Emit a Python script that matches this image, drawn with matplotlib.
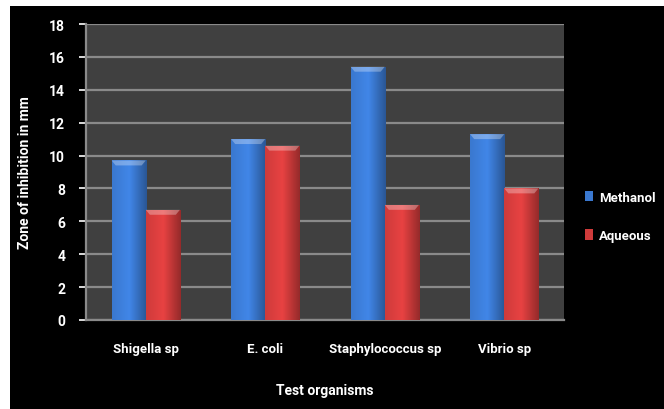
import numpy as np
import matplotlib
matplotlib.use("Agg")
import matplotlib.pyplot as plt
from matplotlib.patches import Rectangle, Polygon
from matplotlib.colors import LinearSegmentedColormap, to_rgb

plt.rcParams['font.family'] = ['Roboto', 'DejaVu Sans']

# data
organisms = ['Shigella sp', 'E. coli', 'Staphylococcus sp', 'Vibrio sp']
methanol = [9.7, 11.0, 15.4, 11.3]
aqueous = [6.7, 10.6, 7.0, 8.0]
series_names = ['Methanol', 'Aqueous']
yticks = list(range(0, 19, 2))

blue = '#3a78cf'
red = '#cf3b3b'

fig = plt.figure(figsize=(6.64, 4.10), dpi=100)
fig.patch.set_facecolor('white')
# black chart area (white margin at top and left like the screenshot)
fig.add_artist(Rectangle((10/664, 0), 654/664, 403/410, transform=fig.transFigure,
                         facecolor='black', edgecolor='none', zorder=0))

ax = fig.add_axes([86/664, 89/410, 478/664, 296/410])
ax.set_facecolor('#404040')

w = 1 / 3.5   # excel gap width 150%
x = np.arange(len(organisms))


def shaded_bars(xpos, vals, color, label):
    bars = ax.bar(xpos, vals, width=w, color=color, edgecolor='none',
                  label=label, zorder=3)
    rgb = to_rgb(color)
    cm = LinearSegmentedColormap.from_list('g', [
        rgb, tuple(min(1, c * 1.12) for c in rgb), tuple(c * 0.72 for c in rgb)])
    grad = np.linspace(0, 1, 64).reshape(1, -1)
    for b in bars:
        x0, y0 = b.get_x(), b.get_y()
        bw, bh = b.get_width(), b.get_height()
        im = ax.imshow(grad, cmap=cm, aspect='auto',
                       extent=[x0, x0 + bw, y0, y0 + bh], zorder=4)
        im.set_clip_path(b)
        # bevel on the top
        th = 0.3
        ax.add_patch(Polygon([[x0, y0 + bh], [x0 + bw, y0 + bh],
                              [x0 + bw * 0.88, y0 + bh - th], [x0 + bw * 0.12, y0 + bh - th]],
                             closed=True, facecolor='white', alpha=0.3,
                             edgecolor='none', zorder=5))
    return bars


shaded_bars(x - w / 2, methanol, blue, series_names[0])
shaded_bars(x + w / 2, aqueous, red, series_names[1])

ax.set_xlim(-0.5, len(organisms) - 0.5)
ax.set_ylim(0, 18)
ax.set_yticks(yticks)
ax.set_xticks(x)
ax.set_xticklabels(organisms)
ax.yaxis.grid(True, color='#8a8a8a', linewidth=1.6, zorder=1)
ax.set_axisbelow(True)

for s in ['top', 'right']:
    ax.spines[s].set_visible(False)
ax.spines['left'].set_color('#8a8a8a')
ax.spines['bottom'].set_color('#8a8a8a')
ax.spines['left'].set_linewidth(1.6)
ax.spines['bottom'].set_linewidth(1.6)
ax.tick_params(axis='y', colors='white', labelsize=10, length=5, width=1.2, pad=10)
ax.tick_params(axis='x', colors='white', labelsize=9.5, length=0, pad=16)
for t in ax.get_yticklabels() + ax.get_xticklabels():
    t.set_fontweight('bold')
    t.set_color('white')

ax.set_ylabel('Zone of inhibition in mm', color='white', fontsize=10,
              fontweight='bold', labelpad=12)
ax.set_xlabel('Test organisms', color='white', fontsize=10,
              fontweight='bold', labelpad=20)

leg = ax.legend(loc='center left', bbox_to_anchor=(1.02, 0.35), frameon=False,
                handlelength=0.55, handleheight=0.9, labelspacing=1.95,
                handletextpad=0.5, prop={'weight': 'bold', 'size': 9.5})
for t in leg.get_texts():
    t.set_color('white')

fig.savefig('out.png', dpi=100, facecolor=fig.get_facecolor())
